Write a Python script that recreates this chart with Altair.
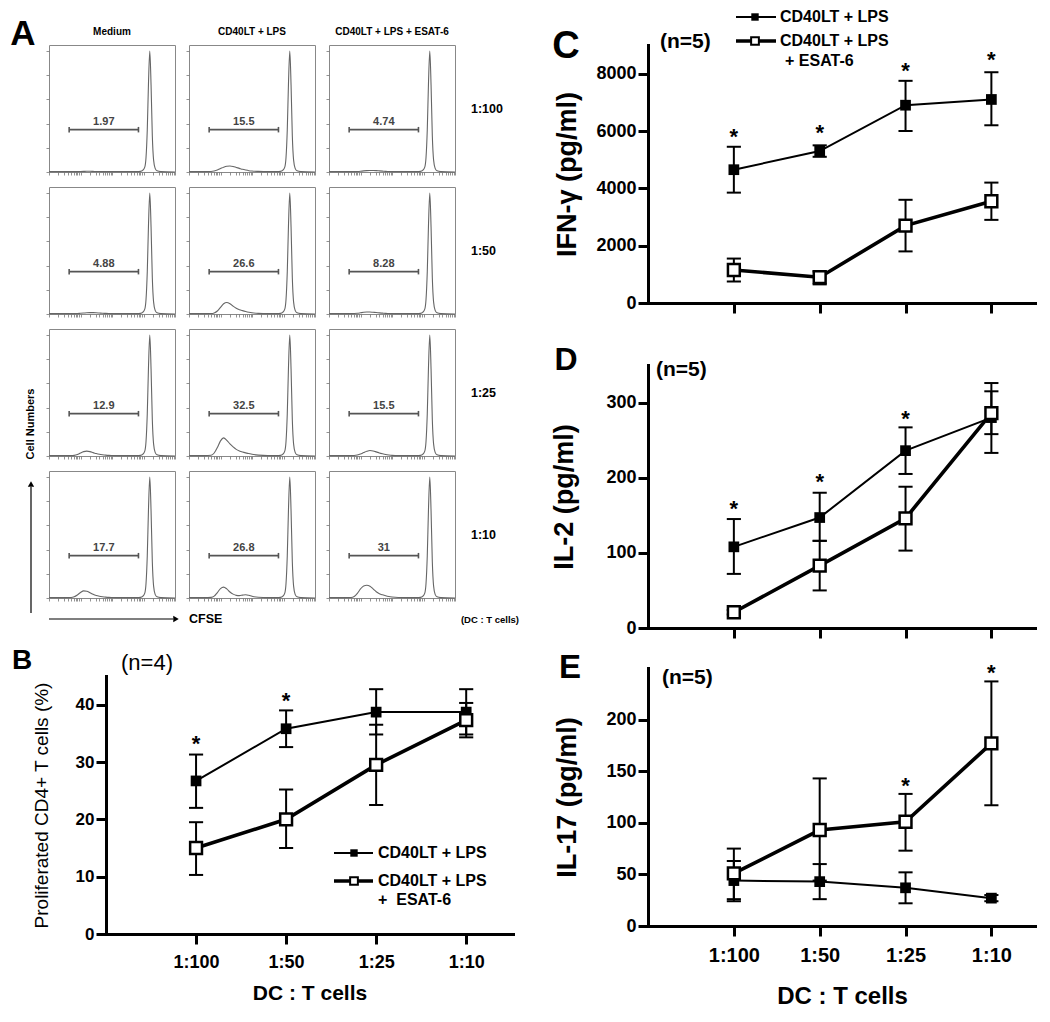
import math
import pandas as pd
import altair as alt

FONT = "Liberation Sans"

# ---------------- Panel A : CFSE histograms ----------------
TREATMENTS = ["Medium", "CD40LT + LPS", "CD40LT + LPS + ESAT-6"]
RATIOS = ["1:100", "1:50", "1:25", "1:10"]
GATE_PCT = [
    ["1.97", "15.5", "4.74"],
    ["4.88", "26.6", "8.28"],
    ["12.9", "32.5", "15.5"],
    ["17.7", "26.8", "31"],
]
# CFSE intensity in decades (log10), cell counts in % of the tallest peak
LOW_X = [0.0, 0.5, 0.7, 0.8, 0.9, 1.0, 1.1, 1.2, 1.3, 1.4, 1.5, 1.6, 1.7, 1.8, 1.9, 2.0, 2.2, 2.5]
PEAK_X = [2.8, 2.9, 2.98, 3.04, 3.08, 3.12, 3.16, 3.2, 3.24, 3.28, 3.32, 3.37, 3.43, 3.55, 4.0]
PEAK_Y = [0.3, 0.5, 1.5, 4, 12, 35, 75, 100, 72, 30, 10, 3, 1, 0.3, 0]
LOW_Y = [
    [
        [0.3, 0.3, 0.3, 0.3, 0.3, 0.4, 0.5, 0.6, 0.6, 0.5, 0.4, 0.4, 0.3, 0.3, 0.3, 0.3, 0.3, 0.3],
        [0.3, 0.3, 0.4, 0.8, 1.6, 2.8, 4.0, 4.8, 5.0, 4.6, 3.8, 3.0, 2.2, 1.6, 1.1, 0.8, 0.5, 0.3],
        [0.3, 0.3, 0.3, 0.3, 0.4, 0.6, 0.9, 1.1, 1.2, 1.2, 1.1, 0.9, 0.7, 0.5, 0.4, 0.3, 0.3, 0.3],
    ],
    [
        [0.3, 0.3, 0.3, 0.3, 0.4, 0.6, 0.8, 1.0, 1.1, 1.1, 1.0, 0.8, 0.6, 0.5, 0.4, 0.3, 0.3, 0.3],
        [0.3, 0.3, 0.4, 0.9, 2.5, 5.5, 8.5, 9.5, 8.5, 6.5, 4.8, 3.6, 2.8, 2.1, 1.5, 1.0, 0.5, 0.3],
        [0.3, 0.3, 0.3, 0.4, 0.6, 1.0, 1.4, 1.6, 1.6, 1.4, 1.2, 0.9, 0.7, 0.5, 0.4, 0.3, 0.3, 0.3],
    ],
    [
        [0.3, 0.3, 0.3, 0.5, 1.2, 2.5, 3.6, 4.0, 3.6, 2.8, 2.0, 1.4, 1.0, 0.7, 0.5, 0.4, 0.3, 0.3],
        [0.3, 0.3, 0.6, 2.5, 7.0, 12.5, 15.0, 13.0, 10.0, 7.5, 5.5, 4.2, 3.3, 2.6, 2.0, 1.4, 0.7, 0.3],
        [0.3, 0.3, 0.3, 0.4, 0.8, 1.6, 2.8, 3.9, 4.5, 4.2, 3.4, 2.5, 1.8, 1.2, 0.8, 0.5, 0.3, 0.3],
    ],
    [
        [0.3, 0.3, 0.4, 1.0, 2.5, 4.5, 5.9, 5.6, 4.4, 3.0, 2.0, 1.4, 1.0, 0.7, 0.5, 0.4, 0.3, 0.3],
        [0.3, 0.3, 0.5, 1.5, 4.5, 7.8, 9.0, 7.5, 5.0, 3.2, 2.2, 2.0, 2.4, 2.7, 2.2, 1.4, 0.6, 0.3],
        [0.3, 0.3, 0.4, 1.2, 3.8, 7.5, 10.0, 10.5, 9.8, 7.5, 5.2, 3.6, 2.6, 1.8, 1.2, 0.8, 0.4, 0.3],
    ],
]
GATE_X0 = 0.64
GATE_X1 = 2.84
GATE_LEVEL = 35

# ---------------- Panels B-E ----------------
LEGEND_LPS = "CD40LT + LPS"

B_LPS_MEAN = [26.7, 35.8, 38.7, 38.7]
B_LPS_LO = [22.0, 32.6, 34.8, 34.8]
B_LPS_HI = [31.3, 39.0, 42.7, 42.7]
B_ESAT_MEAN = [15.0, 20.0, 29.5, 37.3]
B_ESAT_LO = [10.3, 15.0, 22.5, 34.3]
B_ESAT_HI = [19.5, 25.2, 36.5, 40.3]
B_STAR_RATIO = ["1:100", "1:50"]
B_STAR_Y = [33.5, 41.0]

C_LPS_MEAN = [4650, 5300, 6900, 7100]
C_LPS_LO = [3850, 5100, 6000, 6200]
C_LPS_HI = [5450, 5500, 7750, 8050]
C_ESAT_MEAN = [1150, 900, 2700, 3550]
C_ESAT_LO = [750, 650, 1800, 2900]
C_ESAT_HI = [1550, 1100, 3600, 4200]
C_STAR_RATIO = ["1:100", "1:50", "1:25", "1:10"]
C_STAR_Y = [5850, 6000, 8150, 8550]

D_LPS_MEAN = [108, 147, 236, 280]
D_LPS_LO = [72, 116, 205, 258]
D_LPS_HI = [145, 180, 267, 315]
D_ESAT_MEAN = [21, 83, 146, 286]
D_ESAT_LO = [18, 50, 103, 233]
D_ESAT_HI = [24, 116, 188, 326]
D_STAR_RATIO = ["1:100", "1:50", "1:25"]
D_STAR_Y = [161, 197, 281]

E_LPS_MEAN = [44, 43, 37, 27]
E_LPS_LO = [24, 26, 22, 24]
E_LPS_HI = [63, 60, 52, 30]
E_ESAT_MEAN = [51, 93, 101, 177]
E_ESAT_LO = [26, 44, 73, 117]
E_ESAT_HI = [75, 143, 128, 237]
E_STAR_RATIO = ["1:25", "1:10"]
E_STAR_Y = [138, 247]

ONE = pd.DataFrame({"k": [0]})


# ---------------- helpers ----------------
def label(text, x, y, size, weight="bold", align="center", angle=0, color="black"):
    kw = dict(text=text, fontSize=size, fontWeight=weight, align=align,
              baseline="middle", color=color, font=FONT)
    if angle:
        kw["angle"] = angle
    return alt.Chart(ONE).mark_text(**kw).encode(x=alt.value(x), y=alt.value(y))


def hline(x0, x1, y, width, color="black"):
    return alt.Chart(ONE).mark_rule(color=color, strokeWidth=width).encode(
        x=alt.value(x0), x2=alt.value(x1), y=alt.value(y))


def vline(x, y0, y1, width, color="black"):
    return alt.Chart(ONE).mark_rule(color=color, strokeWidth=width).encode(
        x=alt.value(x), y=alt.value(y0), y2=alt.value(y1))


def head(x, y, shape, size):
    return alt.Chart(ONE).mark_point(shape=shape, filled=True, color="black",
                                     size=size, opacity=1).encode(x=alt.value(x), y=alt.value(y))


def spacer(w, h):
    return alt.Chart(ONE).mark_point(opacity=0).encode(
        x=alt.value(0), y=alt.value(0)).properties(width=w, height=h)


# ---------------- Panel A ----------------
CW, CH = 126, 127
LOG_TICKS = [round(math.log10(k * 10 ** d), 4) for d in range(4) for k in range(1, 10)] + [4]


def hist_cell(r, c):
    df = pd.DataFrame({"x": LOW_X + PEAK_X, "y": LOW_Y[r][c] + PEAK_Y})
    xs = alt.Scale(domain=[0, 4], nice=False)
    ys = alt.Scale(domain=[0, 105], nice=False)
    xax = alt.Axis(values=LOG_TICKS, labels=False, domain=False, grid=False,
                   tickSize=3, tickColor="#777", tickWidth=0.8, title=None)
    yax = alt.Axis(values=[0, 20, 40, 60, 80, 100], labels=False, domain=False,
                   grid=False, tickSize=3, tickColor="#777", tickWidth=0.8, title=None)
    curve = alt.Chart(df).mark_line(color="#666", strokeWidth=1.1, interpolate="monotone").encode(
        x=alt.X("x:Q", scale=xs, axis=xax), y=alt.Y("y:Q", scale=ys, axis=yax))
    gdf = pd.DataFrame({"x0": [GATE_X0], "x1": [GATE_X1], "y": [GATE_LEVEL],
                        "xm": [(GATE_X0 + GATE_X1) / 2], "t": [GATE_PCT[r][c]]})
    cdf = pd.DataFrame({"x": [GATE_X0, GATE_X1], "y": [GATE_LEVEL, GATE_LEVEL]})
    gate = alt.Chart(gdf).mark_rule(color="#555", strokeWidth=1.6).encode(
        x=alt.X("x0:Q", scale=xs, axis=xax), x2="x1:Q", y=alt.Y("y:Q", scale=ys, axis=yax))
    caps = alt.Chart(cdf).mark_point(shape="M0,-1L0,1", size=30, strokeWidth=1.6, color="#555",
                                     opacity=1).encode(
        x=alt.X("x:Q", scale=xs, axis=xax), y=alt.Y("y:Q", scale=ys, axis=yax))
    glab = alt.Chart(gdf).mark_text(fontSize=11, fontWeight="bold", color="#444", dy=-8, font=FONT).encode(
        x=alt.X("xm:Q", scale=xs, axis=xax), y=alt.Y("y:Q", scale=ys, axis=yax), text="t:N")
    layers = [curve, gate, caps, glab]
    if r == 0:
        layers.append(label(TREATMENTS[c], CW / 2, -13, 10))
    if c == 2:
        layers.append(label(RATIOS[r], CW + 16, CH / 2, 12.5, align="left"))
    if r == 0 and c == 0:
        layers.append(label("A", -26, -11, 35))
    if r == 3 and c == 0:
        layers += [
            label("Cell Numbers", -18, -47, 11, angle=270),
            vline(-18, 142, 16, 1.2),
            head(-18, 13, "triangle-up", 40),
            hline(0, 124, 148, 1.2),
            head(127, 148, "triangle-right", 40),
        ]
    if r == 3 and c == 1:
        layers.append(label("CFSE", 0, 148, 12.5, align="left"))
    if r == 3 and c == 2:
        layers.append(label("(DC : T cells)", 190, 149, 9.5, align="right"))
    return alt.layer(*layers).properties(width=CW, height=CH,
                                         view=alt.ViewBackground(stroke="#888", strokeWidth=1))


cells = [hist_cell(r, c) for r in range(4) for c in range(3)]
A_grid = alt.concat(*cells, columns=3, spacing={"row": 15, "column": 14}, bounds="flush")


# ---------------- line panels ----------------
def xy_panel(lps, esat, star_ratio, star_y, ydom, yticks, w, h, ylabel_size,
             ytitle, ytitle_x, ytitle_size, ytitle_weight, xlabels, xlabel_size, xlabel_pad,
             xtitle, xtitle_size, xtitle_y, decos):
    xs = alt.Scale(type="point", domain=RATIOS, padding=0.76, align=0.658)
    ys = alt.Scale(domain=ydom, nice=False)
    yaxis = alt.Axis(values=yticks, format="d", grid=False, domainColor="black", domainWidth=3,
                     domainCap="square", tickColor="black", tickWidth=3, tickSize=10, labelPadding=2,
                     labelFont=FONT, labelFontSize=ylabel_size, labelFontWeight="bold", labelColor="black",
                     title=ytitle, titleFont=FONT, titleFontSize=ytitle_size, titleFontWeight=ytitle_weight,
                     titleColor="black", titleAngle=270, titleAlign="center", titleBaseline="middle",
                     titleX=ytitle_x, titleY=h / 2)
    xaxis = alt.Axis(grid=False, domainColor="black", domainWidth=3, domainCap="square",
                     tickColor="black", tickWidth=3, tickSize=10, labels=xlabels, labelAngle=0,
                     labelFont=FONT, labelFontSize=xlabel_size, labelFontWeight="bold",
                     labelColor="black", labelPadding=xlabel_pad,
                     title=xtitle, titleFont=FONT, titleFontSize=xtitle_size, titleFontWeight="bold",
                     titleColor="black", titleY=xtitle_y, titleBaseline="middle")
    dl = pd.DataFrame({"ratio": RATIOS, "i": range(4), "m": lps[0], "lo": lps[1], "hi": lps[2]})
    de = pd.DataFrame({"ratio": RATIOS, "i": range(4), "m": esat[0], "lo": esat[1], "hi": esat[2]})
    both = pd.concat([dl, de], ignore_index=True)
    capdf = pd.DataFrame({"ratio": RATIOS * 4,
                          "v": list(lps[1]) + list(lps[2]) + list(esat[1]) + list(esat[2])})
    sdf = pd.DataFrame({"ratio": star_ratio, "v": star_y})

    def X():
        return alt.X("ratio:O", scale=xs, axis=xaxis)

    def Y(f):
        return alt.Y(f, scale=ys, axis=yaxis)

    bars = alt.Chart(both).mark_rule(color="black", strokeWidth=2).encode(
        x=X(), y=Y("lo:Q"), y2="hi:Q")
    caps = alt.Chart(capdf).mark_point(shape="stroke", size=200, strokeWidth=2, color="black",
                                       opacity=1).encode(x=X(), y=Y("v:Q"))
    line_l = alt.Chart(dl).mark_line(color="black", strokeWidth=2).encode(x=X(), y=Y("m:Q"), order="i:Q")
    line_e = alt.Chart(de).mark_line(color="black", strokeWidth=3.6).encode(x=X(), y=Y("m:Q"), order="i:Q")
    pts_l = alt.Chart(dl).mark_point(shape="square", filled=True, color="black", size=115,
                                     opacity=1).encode(x=X(), y=Y("m:Q"))
    pts_e = alt.Chart(de).mark_point(shape="square", filled=True, fill="white", stroke="black",
                                     strokeWidth=2.5, size=140, opacity=1).encode(x=X(), y=Y("m:Q"))
    stars = alt.Chart(sdf).mark_text(text="*", fontSize=22, fontWeight="bold", color="black",
                                     dy=2, font=FONT).encode(x=X(), y=Y("v:Q"))
    return alt.layer(bars, caps, line_l, line_e, pts_l, pts_e, stars, *decos).properties(width=w, height=h)


def legend_layers(x0, x1, mx, tx, y1, y2, y3, tx3, text3):
    return [
        hline(x0, x1, y1, 2),
        alt.Chart(ONE).mark_point(shape="square", filled=True, color="black", size=55,
                                  opacity=1).encode(x=alt.value(mx), y=alt.value(y1)),
        label(LEGEND_LPS, tx, y1, 16, align="left"),
        hline(x0, x1, y2, 3.5),
        alt.Chart(ONE).mark_point(shape="square", filled=True, fill="white", stroke="black",
                                  strokeWidth=2, size=60, opacity=1).encode(x=alt.value(mx), y=alt.value(y2)),
        label(LEGEND_LPS, tx, y2, 16, align="left"),
        label(text3, tx3, y3, 16, align="left"),
    ]


BW, BH = 407, 258
B = xy_panel((B_LPS_MEAN, B_LPS_LO, B_LPS_HI), (B_ESAT_MEAN, B_ESAT_LO, B_ESAT_HI),
             B_STAR_RATIO, B_STAR_Y, [0, 45], [0, 10, 20, 30, 40], BW, BH, 17,
             "Proliferated CD4+ T cells (%)", -65, 19, "normal", True, 18, 9,
             "DC : T cells", 21, 59,
             [label("B", -84, -15, 28), label("(n=4)", 15, -13, 22, weight="normal", align="left")]
             + legend_layers(228, 267, 248, 272, 177, 205, 224, 272, "+\u00a0\u00a0ESAT-6"))

RW = 388
C = xy_panel((C_LPS_MEAN, C_LPS_LO, C_LPS_HI), (C_ESAT_MEAN, C_ESAT_LO, C_ESAT_HI),
             C_STAR_RATIO, C_STAR_Y, [0, 9000], [0, 2000, 4000, 6000, 8000], RW, 258, 18,
             "IFN-\u03b3 (pg/ml)", -81, 27, "bold", False, 18, 9, None, 20, 50,
             [label("C", -82, 2, 38), label("(n=5)", 12, -3, 21, align="left")]
             + legend_layers(88, 128, 107, 132, -28, -4, 16, 137, "+ ESAT-6"))

D = xy_panel((D_LPS_MEAN, D_LPS_LO, D_LPS_HI), (D_ESAT_MEAN, D_ESAT_LO, D_ESAT_HI),
             D_STAR_RATIO, D_STAR_Y, [0, 350], [0, 100, 200, 300], RW, 263, 18,
             "IL-2 (pg/ml)", -84, 27, "bold", False, 18, 9, None, 20, 50,
             [label("D", -82, -5, 32), label("(n=5)", 8, 5, 21, align="left")])

E = xy_panel((E_LPS_MEAN, E_LPS_LO, E_LPS_HI), (E_ESAT_MEAN, E_ESAT_LO, E_ESAT_HI),
             E_STAR_RATIO, E_STAR_Y, [0, 250], [0, 50, 100, 150, 200], RW, 258, 18,
             "IL-17 (pg/ml)", -81, 27, "bold", True, 20, 9,
             "DC : T cells", 24, 70,
             [label("E", -78, 0, 33), label("(n=5)", 14, 10, 21, align="left")])

B_row = alt.hconcat(spacer(57, 1), B, spacing=0, bounds="flush")
left = alt.vconcat(A_grid, B_row, spacing=21)
right = alt.vconcat(C, spacer(1, 62), D, spacer(1, 40), E, spacing=0, bounds="flush")

chart = alt.hconcat(left, right, spacing=30).properties(padding=1).configure(
    font=FONT).configure_view(stroke=None)

chart.save("out.html", embed_options={"renderer": "svg", "actions": False})
